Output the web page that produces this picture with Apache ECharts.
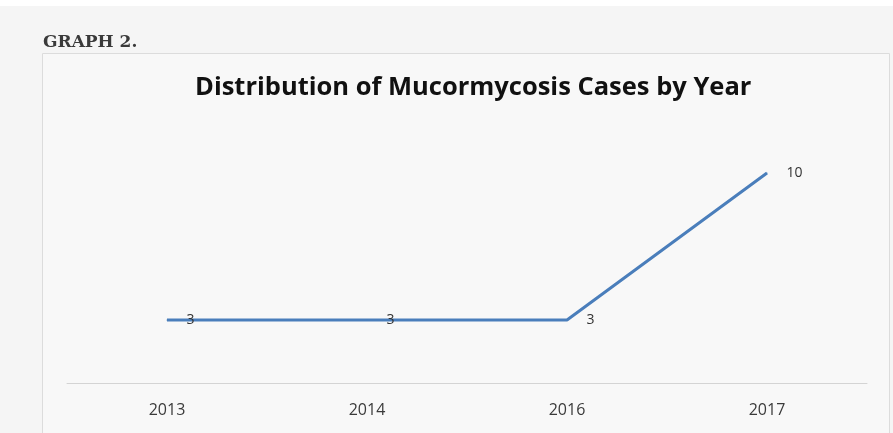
<!DOCTYPE html>
<html lang="en">
<head>
    <meta charset="UTF-8">
    <title>Mucormycosis cases by year</title>
    <script src="https://cdn.jsdelivr.net/npm/echarts@6/dist/echarts.min.js"></script>
    <style>
        html, body { margin: 0; padding: 0; background: #f5f5f5; }
    </style>
</head>
<body>
<div id="main" style="width: 893px;height:433px;"></div>

<script type="text/javascript">
    var years = ['2013', '2014', '2016', '2017'];
    var cases = [3, 3, 3, 10];

    var myChart = echarts.init(document.getElementById('main'));

    myChart.setOption({
        backgroundColor: '#f5f5f5',
        animation: false,
        graphic: [
            // white strip at the very top
            { type: 'rect', shape: { x: 0, y: 0, width: 893, height: 6 }, style: { fill: '#ffffff' }, silent: true },
            // chart frame
            { type: 'rect', shape: { x: 42.5, y: 53.5, width: 847, height: 390 },
              style: { fill: '#f8f8f8', stroke: '#dcdcdc', lineWidth: 1 }, silent: true },
            { type: 'text', left: 43, top: 34,
              style: { text: 'GRAPH 2.', font: 'bold 17px "DejaVu Serif", serif', fill: '#3a3a3a' } }
        ],
        title: {
            text: 'Distribution of Mucormycosis Cases by Year',
            left: 190,
            top: 70,
            textStyle: { fontFamily: 'Open Sans', fontWeight: 'bold', fontSize: 25.5, color: '#111' }
        },
        grid: { left: 67, right: 26, top: 131, bottom: 50 },
        xAxis: {
            type: 'category',
            data: years,
            boundaryGap: true,
            axisLine: { lineStyle: { color: '#d4d4d4' } },
            axisTick: { show: false },
            axisLabel: { color: '#3a3a3a', fontSize: 16, fontFamily: 'Open Sans', margin: 19 }
        },
        yAxis: {
            type: 'value',
            min: 0,
            max: 12,
            show: false
        },
        series: [{
            type: 'line',
            data: cases,
            symbol: 'circle',
            symbolSize: 1,
            itemStyle: { color: '#4a7ebb' },
            lineStyle: { color: '#4a7ebb', width: 3 },
            label: {
                show: true,
                position: 'right',
                distance: 19,
                color: '#333',
                fontSize: 14,
                fontFamily: 'Open Sans'
            }
        }]
    });
</script>
</body>
</html>
